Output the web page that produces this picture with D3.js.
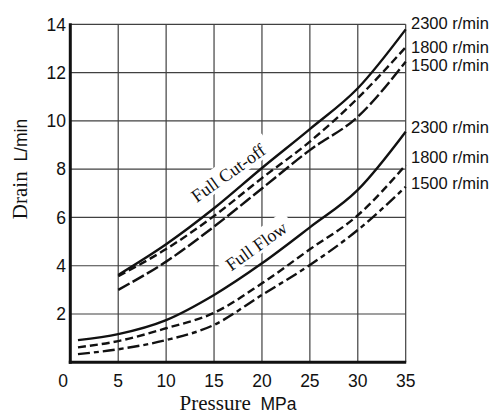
<!DOCTYPE html>
<html><head><meta charset="utf-8">
<script src="https://cdn.jsdelivr.net/npm/d3@7"></script>
<style>body{margin:0;background:#fff}svg{display:block}</style>
</head><body>
<svg id="c" width="502" height="415"></svg>
<script>
const xTicks = [0,5,10,15,20,25,30,35];
const yTicks = [2,4,6,8,10,12,14];
const cutPressure = [5,10,15,20,25,30,35];
const cut2300 = [3.62,4.89,6.38,8.05,9.66,11.35,13.79];
const cut1800 = [3.57,4.69,6.06,7.63,9.14,10.94,13.05];
const cut1500 = [3.0,4.17,5.62,7.2,8.79,10.17,12.45];
const flowPressure = [0.8,5,10,15,20,25,30,35];
const flow2300 = [0.92,1.17,1.75,2.79,4.1,5.59,7.14,9.55];
const flow1800 = [0.62,0.88,1.41,2.05,3.27,4.68,6.09,8.17];
const flow1500 = [0.34,0.54,0.92,1.55,2.79,4.03,5.48,7.27];
const speedLabels = ["2300 r/min","1800 r/min","1500 r/min"];

const svg = d3.select("#c");
const x = d3.scaleLinear().domain([0,35]).range([70.3,405.7]);
const y = d3.scaleLinear().domain([0,14]).range([362.3,24.3]);
const sans = "Liberation Sans, Arial, sans-serif";
const serif = "Liberation Serif, Times New Roman, serif";

// grid
const g = svg.append("g");
g.selectAll(".vx").data(xTicks.filter(d=>d>0)).enter().append("line")
  .attr("x1",d=>x(d)).attr("x2",d=>x(d)).attr("y1",y(0)).attr("y2",y(14))
  .attr("stroke","#404040").attr("stroke-width",1.2);
g.selectAll(".hy").data(yTicks).enter().append("line")
  .attr("x1",x(0)).attr("x2",x(35)).attr("y1",d=>y(d)).attr("y2",d=>y(d))
  .attr("stroke","#404040").attr("stroke-width",1.2);

// label halos (white boxes breaking grid)
function rotLabel(cx, cy, txt, w){
  const gg = svg.append("g").attr("transform",`translate(${cx},${cy}) rotate(-35.5)`);
  gg.append("rect").attr("x",-w/2-7).attr("y",-14).attr("width",w+14).attr("height",22).attr("fill","#fff");
  gg.append("text").attr("text-anchor","middle").attr("y",5)
    .attr("font-family",serif).attr("font-size",18).attr("fill","#111").text(txt);
}
rotLabel(229,174,"Full Cut-off",86);
rotLabel(257,247,"Full Flow",70);

// axes thick lines
svg.append("line").attr("x1",x(0)).attr("x2",x(0)).attr("y1",y(14)-1).attr("y2",y(0)+1.5)
  .attr("stroke","#111").attr("stroke-width",3);
svg.append("line").attr("x1",x(0)-1.5).attr("x2",x(35)+0.5).attr("y1",y(0)).attr("y2",y(0))
  .attr("stroke","#111").attr("stroke-width",3);

// curves
const line = d3.line().x(d=>x(d[0])).y(d=>y(d[1])).curve(d3.curveMonotoneX);
const series = [
  {p:cutPressure, v:cut2300, dash:null},
  {p:cutPressure, v:cut1800, dash:"8,4"},
  {p:cutPressure, v:cut1500, dash:"13,3.5"},
  {p:flowPressure, v:flow2300, dash:null},
  {p:flowPressure, v:flow1800, dash:"8,4"},
  {p:flowPressure, v:flow1500, dash:"12,4,5,4"},
];
series.forEach(s=>{
  svg.append("path").datum(s.p.map((d,i)=>[d,s.v[i]]))
    .attr("d",line).attr("fill","none").attr("stroke","#111")
    .attr("stroke-width",2.4).attr("stroke-dasharray",s.dash);
});

// tick labels
svg.selectAll(".yt").data(yTicks).enter().append("text")
  .attr("x",66).attr("y",d=>y(d)).attr("dy","0.36em").attr("text-anchor","end")
  .attr("font-family",sans).attr("font-size",17.5).attr("fill","#111").text(d=>d);
svg.selectAll(".xt").data(xTicks).enter().append("text")
  .attr("x",d=>d===0?63:x(d)).attr("y",386.5).attr("text-anchor","middle")
  .attr("font-family",sans).attr("font-size",17.5).attr("fill","#111").text(d=>d);

// right labels
const rightY = [23,47,65.5,127,157,183];
rightY.forEach((ry,i)=>{
  svg.append("text").attr("x",411).attr("y",ry).attr("dy","0.36em")
    .attr("font-family",sans).attr("font-size",16.5).attr("fill","#111").text(speedLabels[i%3]);
});

// axis titles
const xt = svg.append("text").attr("x",238).attr("y",410).attr("text-anchor","middle").attr("fill","#111");
xt.append("tspan").attr("font-family",serif).attr("font-size",21).text("Pressure");
xt.append("tspan").attr("font-family",sans).attr("font-size",17.5).text("\u00a0\u00a0MPa");
const yt = svg.append("text").attr("transform","translate(27,169) rotate(-90)").attr("text-anchor","middle").attr("fill","#111");
yt.append("tspan").attr("font-family",serif).attr("font-size",21).text("Drain");
yt.append("tspan").attr("font-family",sans).attr("font-size",17.5).text("\u00a0\u00a0L/min");
</script>
</body></html>
